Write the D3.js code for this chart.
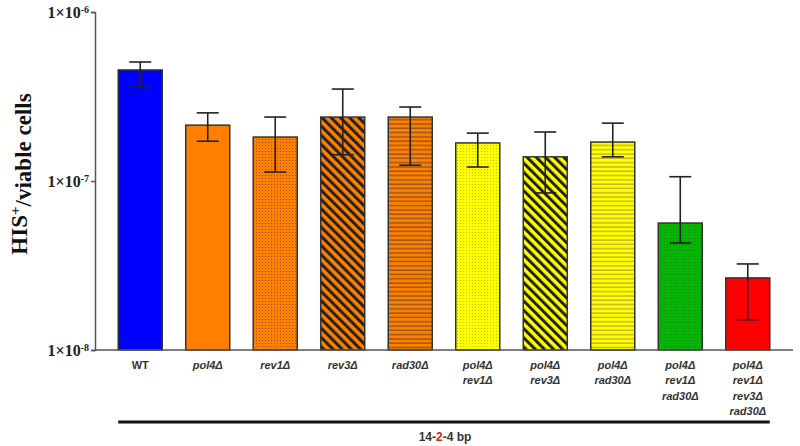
<!DOCTYPE html>
<html>
<head>
<meta charset="utf-8">
<script src="https://cdn.jsdelivr.net/npm/d3@7"></script>
<style>
body { margin: 0; background: #fff; }
</style>
</head>
<body>
<div id="chart"></div>
<script>
var w = 800, h = 446;

var strains = [['WT'], ['pol4Δ'], ['rev1Δ'], ['rev3Δ'], ['rad30Δ'],
  ['pol4Δ', 'rev1Δ'], ['pol4Δ', 'rev3Δ'], ['pol4Δ', 'rad30Δ'],
  ['pol4Δ', 'rev1Δ', 'rad30Δ'], ['pol4Δ', 'rev1Δ', 'rev3Δ', 'rad30Δ']];
var means = [4.54e-7, 2.14e-7, 1.82e-7, 2.39e-7, 2.39e-7, 1.68e-7, 1.39e-7, 1.70e-7, 5.64e-8, 2.67e-8];
var errHigh = [5.06e-7, 2.53e-7, 2.39e-7, 3.50e-7, 2.74e-7, 1.92e-7, 1.95e-7, 2.2e-7, 1.06e-7, 3.23e-8];
var errLow = [3.6e-7, 1.72e-7, 1.13e-7, 1.43e-7, 1.24e-7, 1.21e-7, 8.5e-8, 1.39e-7, 4.3e-8, 1.51e-8];
var fills = ['blue', 'orange', 'orangeDots', 'orangeDiag', 'orangeHoriz',
  'yellowDots', 'yellowDiag', 'yellowHoriz', 'greenDots', 'red'];
var yTicks = [1e-8, 1e-7, 1e-6];

var svg = d3.select('#chart').append('svg').attr('width', w).attr('height', h);

var base = { blue: '#0000ff', orange: '#ff8000', yellow: '#ffff00', green: '#00b800', red: '#ff0000' };
var dotInk = { orange: '#8a4a10', yellow: '#c8b400', green: '#2a6a2a' };
var lineInk = { orange: '#7a4a20', yellow: '#b0a030', green: '#2a6a2a' };
var defs = svg.append('defs');
['orange', 'yellow', 'green'].forEach(function (c) {
  var p = defs.append('pattern').attr('id', c + 'Dots').attr('patternUnits', 'userSpaceOnUse')
    .attr('width', 3).attr('height', 3);
  p.append('rect').attr('width', 3).attr('height', 3).attr('fill', base[c]);
  p.append('circle').attr('cx', 1.5).attr('cy', 1.5).attr('r', 0.6).attr('fill', dotInk[c]);

  var d = defs.append('pattern').attr('id', c + 'Diag').attr('patternUnits', 'userSpaceOnUse')
    .attr('width', 6.5).attr('height', 6.5).attr('patternTransform', 'rotate(-45)');
  d.append('rect').attr('width', 6.5).attr('height', 6.5).attr('fill', base[c]);
  d.append('rect').attr('width', 3).attr('height', 6.5).attr('fill', '#222');

  var hz = defs.append('pattern').attr('id', c + 'Horiz').attr('patternUnits', 'userSpaceOnUse')
    .attr('width', 4.3).attr('height', 4.3);
  hz.append('rect').attr('width', 4.3).attr('height', 4.3).attr('fill', base[c]);
  hz.append('rect').attr('y', 3).attr('width', 4.3).attr('height', 1.1).attr('fill', lineInk[c]);
});

function fillOf(k) { return base[k] ? base[k] : 'url(#' + k + ')'; }

var x = d3.scaleBand().domain(d3.range(strains.length)).range([95, 793])
  .paddingInner(0.348).paddingOuter(0.344);
var y = d3.scaleLog().domain([1e-8, 1e-6]).range([350, 12]);

// bars
svg.selectAll('rect.bar').data(means).enter().append('rect')
  .attr('class', 'bar')
  .attr('x', (d, i) => x(i))
  .attr('y', d => y(d))
  .attr('width', x.bandwidth())
  .attr('height', d => y(1e-8) - y(d))
  .attr('fill', (d, i) => fillOf(fills[i]))
  .attr('stroke', '#333')
  .attr('stroke-width', 1.5);

// error bars
var eb = svg.append('g').attr('stroke', '#222').attr('stroke-width', 1.6);
means.forEach(function (m, i) {
  var cx = x(i) + x.bandwidth() / 2;
  eb.append('line').attr('x1', cx).attr('x2', cx).attr('y1', y(errHigh[i])).attr('y2', y(errLow[i]));
  eb.append('line').attr('x1', cx - 11).attr('x2', cx + 11).attr('y1', y(errHigh[i])).attr('y2', y(errHigh[i]));
  eb.append('line').attr('x1', cx - 11).attr('x2', cx + 11).attr('y1', y(errLow[i])).attr('y2', y(errLow[i]));
});

// y axis
var ya = svg.append('g').attr('transform', 'translate(95,0)')
  .call(d3.axisLeft(y).tickValues(yTicks).tickSize(4).tickFormat(''));
ya.select('.domain').attr('stroke', '#555').attr('stroke-width', 1.5);
ya.selectAll('.tick line').attr('stroke', '#555').attr('stroke-width', 1.5);
ya.selectAll('.tick').each(function (d) {
  var t = d3.select(this).append('text')
    .attr('x', -6).attr('dy', '0.35em')
    .attr('text-anchor', 'end')
    .attr('fill', '#222')
    .style('font-family', '"Liberation Serif", "Times New Roman", serif')
    .style('font-weight', 'bold')
    .style('font-size', '16px');
  t.append('tspan').text('1×10');
  t.append('tspan').attr('dy', '-0.5em').style('font-size', '10px').text(String(Math.round(Math.log10(d))));
});

// x axis baseline
svg.append('line').attr('x1', 95).attr('x2', 793).attr('y1', 350).attr('y2', 350)
  .attr('stroke', '#555').attr('stroke-width', 1.5);

// x labels
strains.forEach(function (lines, i) {
  var t = svg.append('text')
    .attr('x', x(i) + x.bandwidth() / 2)
    .attr('y', 369)
    .attr('text-anchor', 'middle')
    .attr('fill', '#333')
    .style('font-family', '"Liberation Sans", Arial, sans-serif')
    .style('font-weight', 'bold')
    .style('font-style', lines[0] === 'WT' ? 'normal' : 'italic')
    .style('font-size', '11px');
  lines.forEach(function (l, j) {
    t.append('tspan').attr('x', x(i) + x.bandwidth() / 2).attr('dy', j === 0 ? 0 : 15.3).text(l);
  });
});

// y title
svg.append('text')
  .attr('transform', 'translate(27,174) rotate(-90)')
  .attr('text-anchor', 'middle')
  .attr('fill', '#111')
  .style('font-family', '"Liberation Serif", "Times New Roman", serif')
  .style('font-weight', 'bold')
  .style('font-size', '23px')
  .call(function (t) {
    t.append('tspan').text('HIS');
    t.append('tspan').attr('dy', '-0.5em').style('font-size', '15px').text('+');
    t.append('tspan').attr('dy', '0.5em').text('/viable cells');
  });

// group bracket
svg.append('line').attr('x1', x(0)).attr('x2', x(9) + x.bandwidth()).attr('y1', 422).attr('y2', 422)
  .attr('stroke', '#111').attr('stroke-width', 3);
svg.append('text')
  .attr('x', 445).attr('y', 441)
  .attr('text-anchor', 'middle')
  .attr('fill', '#333')
  .style('font-family', '"Liberation Sans", Arial, sans-serif')
  .style('font-weight', 'bold')
  .style('font-size', '12px')
  .call(function (t) {
    t.append('tspan').text('14-');
    t.append('tspan').attr('fill', '#e02020').text('2');
    t.append('tspan').text('-4 bp');
  });
</script>
</body>
</html>
